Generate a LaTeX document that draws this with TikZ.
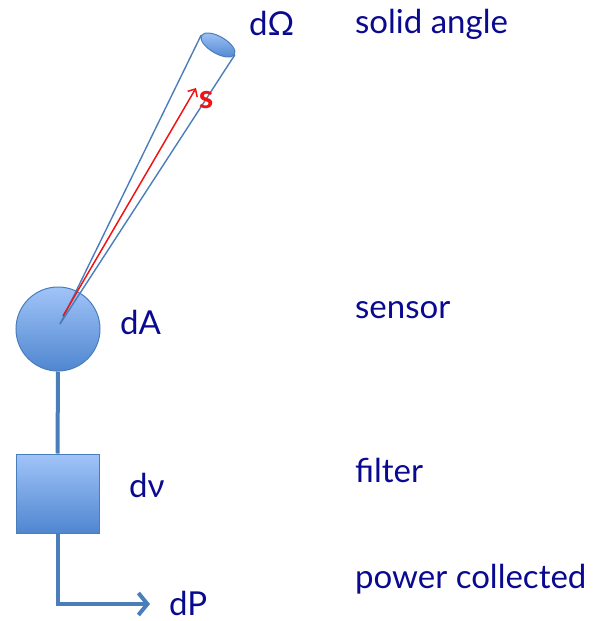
\documentclass[tikz,border=0pt]{standalone}
\usepackage{fontspec}
\setmainfont{Lato}
\usetikzlibrary{arrows.meta,shapes.geometric}
\definecolor{navy}{RGB}{10,10,145}
\definecolor{edge}{RGB}{74,126,187}
\definecolor{shtop}{RGB}{160,196,248}
\definecolor{shbot}{RGB}{80,134,208}
\definecolor{arrred}{RGB}{240,20,20}
\tikzset{
  lbl/.style={text=navy,font=\fontsize{33}{36}\selectfont,inner sep=0pt,anchor=base west},
  blob/.style={draw=edge,line width=1pt,top color=shtop,bottom color=shbot},
  wire/.style={draw=edge,line width=4pt},
  cone/.style={draw=edge,line width=1.4pt}
}
\begin{document}
\begin{tikzpicture}[x=1pt,y=-1pt]
\useasboundingbox (0,0) rectangle (614,621);
% shapes
\node[blob,circle,minimum size=84pt,inner sep=0pt] (A) at (58,329) {};
\node[blob,rectangle,minimum width=83pt,minimum height=79pt,inner sep=0pt] (F) at (57.5,493.5) {};
\node[blob,ellipse,minimum width=38pt,minimum height=17pt,inner sep=0pt,rotate=-30] (E) at (218,45) {};
\coordinate (C) at (60,324);
% cone
\draw[cone] (C) -- (E.west);
\draw[cone] (C) -- (E.east);
% red vector
\coordinate (R0) at (63,316);
\coordinate (R1) at (196,88);
\draw[arrred,line width=1.5pt,-{Straight Barb[length=6pt,width=11pt]}] (R0) -- (R1);
\node[text=arrred,font=\fontsize{33}{34}\selectfont\bfseries,inner sep=0pt,anchor=base] (s) at (206,108) {s};
% wires
\draw[wire] (A.south) -- (F.north);
\coordinate (P) at (150,604);
\draw[wire,-{Straight Barb[length=9pt,width=22pt,line width=4pt]}] (F.south) |- (P);
% labels
\node[lbl] (dO) at (249,35) {dΩ};
\node[lbl] (dA) at (120,334) {dA};
\node[lbl] (dn) at (129,497) {dν};
\node[lbl] (dP) at (169,615) {dP};
\node[lbl] (t1) at (355,33) {solid angle};
\node[lbl] (t2) at (355,318) {sensor};
\node[lbl] (t3) at (355,482) {filter};
\node[lbl] (t4) at (355,588) {power collected};
\end{tikzpicture}
\end{document}
